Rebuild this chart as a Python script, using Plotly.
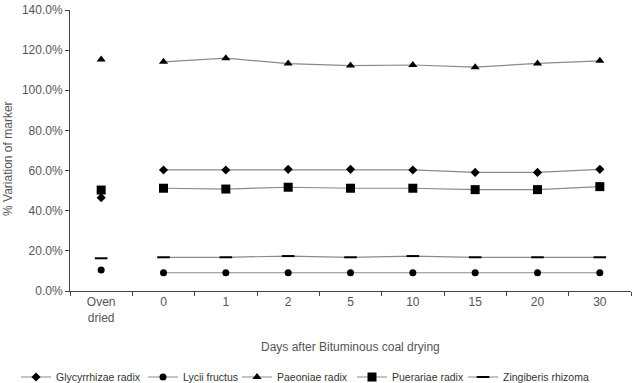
import plotly.graph_objects as go

categories = ["Oven<br>dried", "0", "1", "2", "5", "10", "15", "20", "30"]
glycyrrhizae = [0.465, 0.603, 0.603, 0.606, 0.606, 0.603, 0.591, 0.591, 0.606]
lycii = [0.105, 0.091, 0.091, 0.091, 0.091, 0.091, 0.091, 0.091, 0.091]
paeoniae = [1.154, 1.142, 1.160, 1.133, 1.123, 1.126, 1.115, 1.134, 1.147]
puerariae = [0.503, 0.512, 0.508, 0.517, 0.512, 0.512, 0.505, 0.505, 0.520]
zingiberis = [0.163, 0.168, 0.168, 0.174, 0.168, 0.174, 0.168, 0.168, 0.168]

series = [
    ("Glycyrrhizae radix", glycyrrhizae, dict(symbol="diamond", size=7, color="black")),
    ("Lycii fructus", lycii, dict(symbol="circle", size=7, color="black")),
    ("Paeoniae radix", paeoniae, dict(symbol="triangle-up", size=8, color="black")),
    ("Puerariae radix", puerariae, dict(symbol="square", size=9, color="black")),
    ("Zingiberis rhizoma", zingiberis, dict(symbol="line-ew", size=9, color="black",
                                            line=dict(color="black", width=2))),
]
legend_x_px = [16, 143, 237, 352, 463]

font_color = "#555555"
fig = go.Figure()
layout_legends = {}
for i, (name, vals, mk) in enumerate(series):
    lname = "legend" if i == 0 else f"legend{i + 1}"
    fig.add_trace(go.Scatter(x=categories[1:], y=vals[1:], name=name, mode="lines+markers",
                             line=dict(color="#8a8a8a", width=1.2), marker=mk, legend=lname))
    fig.add_trace(go.Scatter(x=categories[:1], y=vals[:1], name=name, mode="markers",
                             marker=mk, showlegend=False))
    layout_legends[lname] = dict(
        orientation="h", x=legend_x_px[i] / 638, xanchor="left", xref="container",
        y=1 - 377 / 383, yanchor="middle", yref="container",
        bgcolor="rgba(0,0,0,0)",
        font=dict(family="Liberation Sans, sans-serif", size=10.5, color="#333333"),
        itemwidth=30,
    )

fig.update_layout(
    width=638, height=383,
    margin=dict(l=70, r=7, t=10, b=92),
    paper_bgcolor="white", plot_bgcolor="white",
    font=dict(family="Liberation Sans, DejaVu Sans, sans-serif", size=12, color=font_color),
    showlegend=True,
    annotations=[
        dict(text="Days after Bituminous coal drying", xref="paper", yref="paper",
             x=0.5, y=-0.199, xanchor="center", yanchor="middle",
             showarrow=False, font=dict(size=12, color=font_color)),
        dict(text="% Variation of marker", xref="paper", yref="paper",
             x=-0.1105, y=0.47, xanchor="center", yanchor="middle", textangle=-90,
             showarrow=False, font=dict(size=12, color=font_color)),
    ],
    **layout_legends,
)
fig.update_xaxes(
    type="category", categoryorder="array", categoryarray=categories,
    range=[-0.5, 8.5], automargin=False,
    showline=True, linecolor="#444444", linewidth=1,
    ticks="outside", tickson="boundaries", ticklen=4, tickcolor="#444444",
    showgrid=False, zeroline=False,
)
fig.update_yaxes(
    range=[0, 1.4], dtick=0.2, tickformat=".1%", automargin=False,
    showline=True, linecolor="#444444", linewidth=1,
    ticks="outside", ticklen=4, tickcolor="#444444",
    showgrid=False, zeroline=False,
)

fig.write_html("out.html")
